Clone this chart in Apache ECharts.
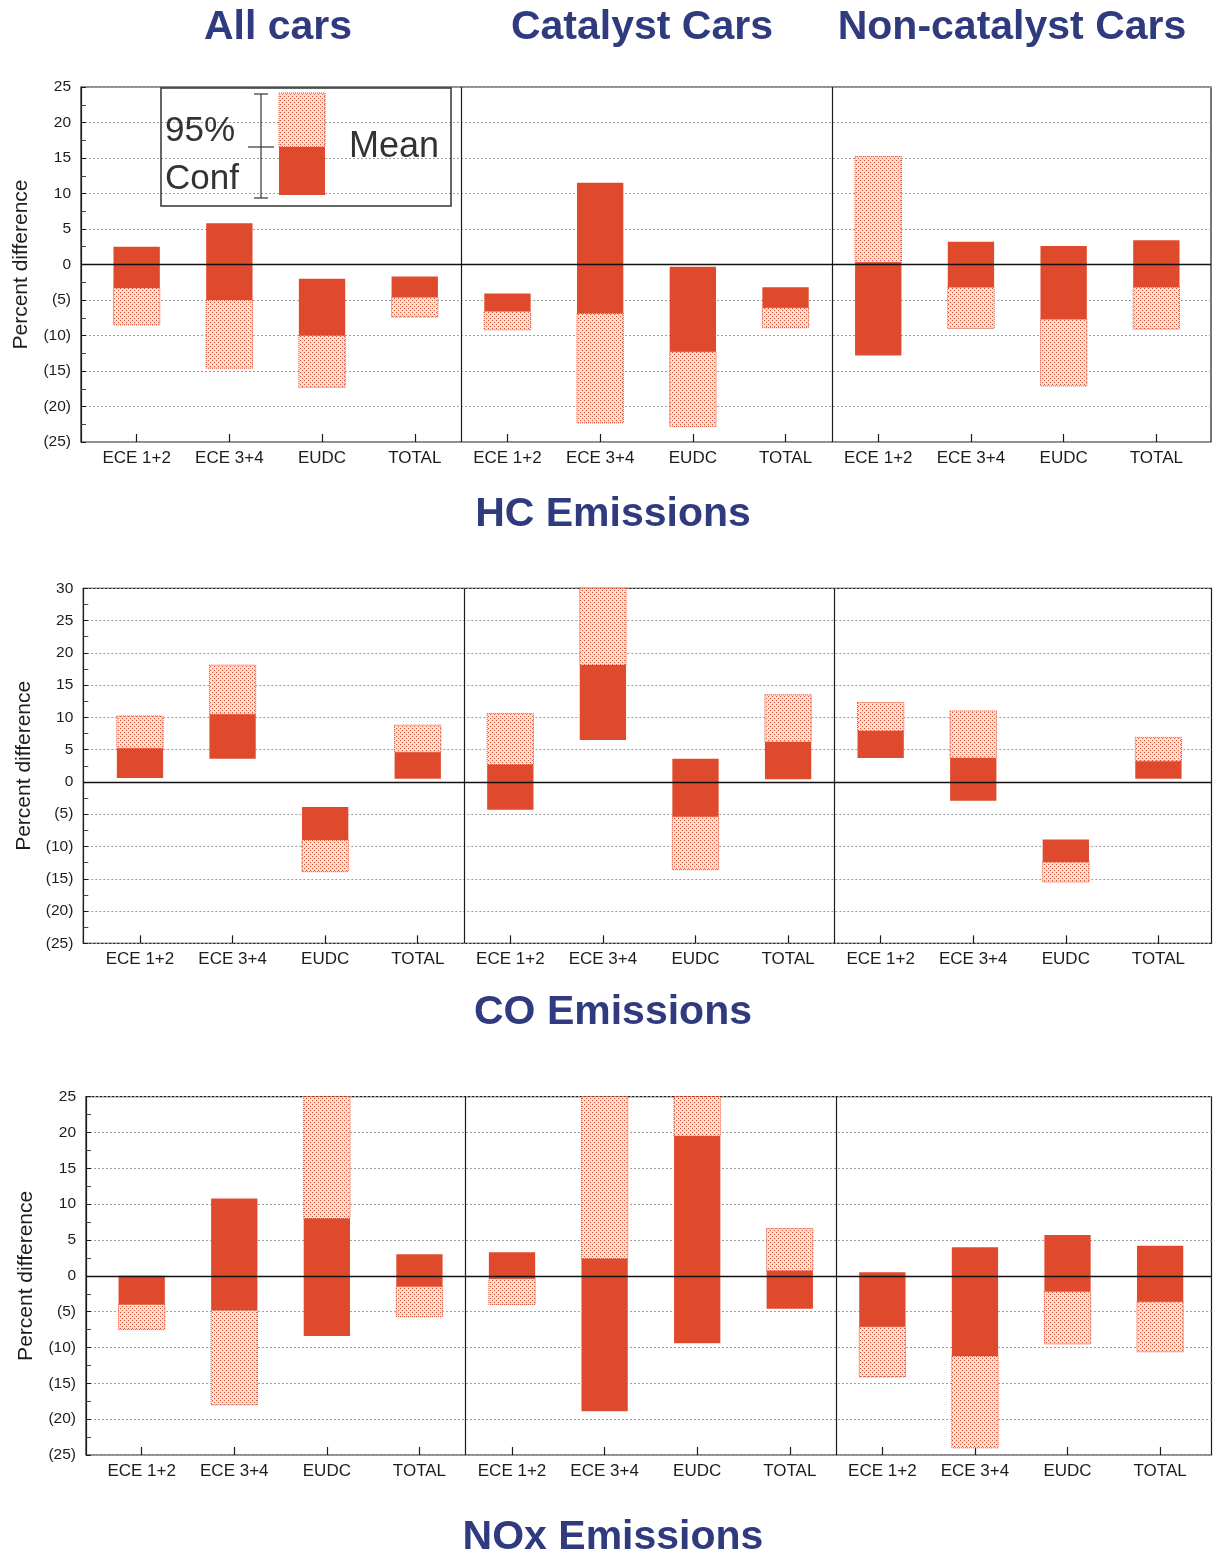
<!DOCTYPE html>
<html>
<head>
<meta charset="utf-8">
<script src="https://cdn.jsdelivr.net/npm/echarts@6/dist/echarts.min.js"></script>
<style>
html,body{margin:0;padding:0;background:#fff;}
#chart{width:1216px;height:1558px;}
</style>
</head>
<body>
<div id="chart"></div>
<script>
// ---------- data ----------
const categories = ['ECE 1+2', 'ECE 3+4', 'EUDC', 'TOTAL'];
const groups = ['All cars', 'Catalyst Cars', 'Non-catalyst Cars'];
const panelTitles = ['HC Emissions', 'CO Emissions', 'NOx Emissions'];

// order: All cars (4), Catalyst (4), Non-catalyst (4)
const hcHigh = [2.5, 5.8, -2.0, -1.7,   -4.1, 11.5, -0.3, -3.2,   15.2, 3.2, 2.6, 3.4];
const hcMean = [-3.3, -5.0, -10.0, -4.6, -6.6, -6.9, -12.3, -6.1,  0.3, -3.2, -7.7, -3.2];
const hcLow  = [-8.5, -14.6, -17.3, -7.4, -9.2, -22.3, -22.8, -8.9, -12.8, -9.0, -17.1, -9.1];

const coHigh = [10.2, 18.1, -3.9, 8.8,   10.6, 30.0, 3.6, 13.5,   12.3, 11.0, -8.9, 6.9];
const coMean = [5.2, 10.5, -9.0, 4.6,    2.7, 18.1, -5.4, 6.2,    7.9, 3.7, -12.4, 3.2];
const coLow  = [0.6, 3.6, -13.9, 0.5,    -4.3, 6.5, -13.6, 0.4,   3.7, -2.9, -15.5, 0.5];

const noxHigh = [0.0, 10.8, 25.0, 3.0,   3.3, 25.0, 25.0, 6.6,    0.5, 4.0, 5.7, 4.2];
const noxMean = [-4.0, -4.8, 8.0, -1.5,  -0.4, 2.4, 19.5, 0.7,    -7.1, -11.2, -2.2, -3.6];
const noxLow  = [-7.5, -18.0, -8.4, -5.7, -4.0, -18.9, -9.4, -4.6, -14.1, -24.0, -9.5, -10.6];

const yRangeHC = [-25, 25], yRangeCO = [-25, 30], yRangeNOx = [-25, 25];

// ---------- layout ----------
const FONT = '"Liberation Sans", Arial, Helvetica, sans-serif';
const NAVY = '#2f3b7e';
const RED = '#df4a2c';
const INK = '#1c1c1c';

const panels = [
  {title: panelTitles[0], titleY: 515, range: yRangeHC, low: hcLow, mean: hcMean, high: hcHigh,
   fl: 81, fr: 1211, ft: 87, fb: 442, bl: 90.3, bw: 1112.4},
  {title: panelTitles[1], titleY: 1013, range: yRangeCO, low: coLow, mean: coMean, high: coHigh,
   fl: 83.3, fr: 1211.5, ft: 588.3, fb: 943.3, bl: 93.7, bw: 1111},
  {title: panelTitles[2], titleY: 1538, range: yRangeNOx, low: noxLow, mean: noxMean, high: noxHigh,
   fl: 86, fr: 1211.5, ft: 1096.7, fb: 1455, bl: 95.4, bw: 1111}
];

// dotted pattern
const pc = document.createElement('canvas');
pc.width = 4; pc.height = 4;
const g = pc.getContext('2d');
g.fillStyle = '#fbe0d6'; g.fillRect(0, 0, 4, 4);
g.fillStyle = '#dc4f30'; g.fillRect(0, 0, 1, 1); g.fillRect(2, 2, 1, 1);
const dotPattern = {image: pc, repeat: 'repeat'};

const xCats = [];
groups.forEach(gr => categories.forEach(c => xCats.push(gr + '|' + c)));

function fmtY(v) { return v < 0 ? '(' + (-v) + ')' : String(v); }

const grid = [], xAxis = [], yAxis = [], series = [];

panels.forEach((p, i) => {
  const h = p.fb - p.ft;
  grid.push({left: p.fl, top: p.ft, width: p.fr - p.fl, height: h, show: true,
    borderColor: INK, borderWidth: 1.2, backgroundColor: 'transparent',
    containLabel: false, outerBoundsMode: 'none'});
  grid.push({left: p.bl, top: p.ft, width: p.bw, height: h, containLabel: false, outerBoundsMode: 'none'});

  xAxis.push({gridIndex: 2 * i, type: 'value', min: 0, max: 1, show: false});
  xAxis.push({gridIndex: 2 * i + 1, type: 'category', data: xCats, position: 'bottom',
    axisLine: {show: false, onZero: false},
    axisTick: {show: true, alignWithLabel: true, inside: true, length: 8, lineStyle: {color: INK, width: 1.2}},
    axisLabel: {interval: 0, formatter: v => v.split('|')[1], fontFamily: FONT, fontSize: 17, color: INK, margin: 8},
    splitLine: {show: true, showMinLine: true, showMaxLine: false,
      interval: (idx) => idx === 4 || idx === 8, lineStyle: {color: INK, width: 1.2}}
  });

  yAxis.push({gridIndex: 2 * i, type: 'value', min: p.range[0], max: p.range[1], interval: 5,
    axisLine: {show: true, onZero: false, lineStyle: {color: INK, width: 1.2}},
    axisTick: {show: true, inside: true, length: 5, lineStyle: {color: INK}},
    minorTick: {show: true, splitNumber: 2, length: 5, lineStyle: {color: '#444'}},
    axisLabel: {formatter: fmtY, fontFamily: FONT, fontSize: 15.5, color: INK, margin: 10},
    splitLine: {show: true, lineStyle: {color: '#a0a0a0', type: [2, 2], width: 1}},
    name: 'Percent difference', nameLocation: 'middle', nameGap: 49, nameRotate: 90,
    nameTextStyle: {fontFamily: FONT, fontSize: 21, color: INK}
  });
  yAxis.push({gridIndex: 2 * i + 1, type: 'value', min: p.range[0], max: p.range[1], show: false});

  // zero line
  series.push({type: 'line', xAxisIndex: 2 * i, yAxisIndex: 2 * i, data: [], silent: true,
    markLine: {silent: true, symbol: ['none', 'none'], label: {show: false}, animation: false,
      lineStyle: {color: '#111', type: 'solid', width: 1.3}, data: [{yAxis: 0}]}});

  const lo = p.range[0], hi = p.range[1];
  const clamp = v => Math.max(lo, Math.min(hi, v));
  series.push({
    type: 'custom', xAxisIndex: 2 * i + 1, yAxisIndex: 2 * i + 1, animation: false,
    data: p.low.map((v, k) => [k, p.low[k], p.mean[k], p.high[k]]),
    renderItem: function (params, api) {
      const idx = api.value(0), l = api.value(1), m = api.value(2), u = api.value(3);
      const band = api.size([1, 0])[0];
      const w = band * 0.5;
      const cx = api.coord([idx, 0])[0];
      function seg(a, b) {
        const y1 = api.coord([idx, clamp(Math.max(a, b))])[1];
        const y2 = api.coord([idx, clamp(Math.min(a, b))])[1];
        return {x: cx - w / 2, y: y1, width: w, height: y2 - y1};
      }
      let solid, dotted;
      if (m >= 0) { solid = seg(l, m); dotted = seg(m, u); }
      else { solid = seg(m, u); dotted = seg(l, m); }
      return {type: 'group', children: [
        {type: 'rect', shape: dotted, style: {fill: dotPattern, stroke: RED, lineWidth: 1, lineDash: [1, 1]}},
        {type: 'rect', shape: solid, style: {fill: RED}}
      ]};
    }
  });
});

function txt(text, x, y, font, fill, align) {
  return {type: 'text', z: 100, style: {text: text, x: x, y: y, font: font, fill: fill,
    align: align || 'center', textAlign: align || 'center', verticalAlign: 'middle', textVerticalAlign: 'middle'}};
}

const graphic = [];
const gx = [278, 642, 1012];
groups.forEach((gr, k) => graphic.push(txt(gr, gx[k], 28, 'bold 41px ' + FONT, NAVY)));
panels.forEach(p => graphic.push(txt(p.title, 613, p.titleY, 'bold 41px ' + FONT, NAVY)));

// legend box
graphic.push({type: 'rect', z: 100, shape: {x: 161, y: 88, width: 290, height: 118},
  style: {fill: 'none', stroke: '#333', lineWidth: 1.5}});
graphic.push(txt('95%', 165, 131, '35px ' + FONT, '#333', 'left'));
graphic.push(txt('Conf', 165, 179, '35px ' + FONT, '#333', 'left'));
graphic.push(txt('Mean', 349, 147, '36px ' + FONT, '#333', 'left'));
const lineSt = {stroke: '#333', lineWidth: 1.2};
graphic.push({type: 'line', z: 100, shape: {x1: 261, y1: 94, x2: 261, y2: 198}, style: lineSt});
graphic.push({type: 'line', z: 100, shape: {x1: 254, y1: 94, x2: 268, y2: 94}, style: lineSt});
graphic.push({type: 'line', z: 100, shape: {x1: 254, y1: 198, x2: 268, y2: 198}, style: lineSt});
graphic.push({type: 'line', z: 100, shape: {x1: 248, y1: 147, x2: 274, y2: 147}, style: lineSt});
graphic.push({type: 'rect', z: 100, shape: {x: 279, y: 93, width: 46, height: 54},
  style: {fill: dotPattern, stroke: RED, lineWidth: 1, lineDash: [1, 1]}});
graphic.push({type: 'rect', z: 100, shape: {x: 279, y: 147, width: 46, height: 48}, style: {fill: RED}});

const chart = echarts.init(document.getElementById('chart'), null, {renderer: 'canvas'});
chart.setOption({
  animation: false,
  backgroundColor: '#fff',
  textStyle: {fontFamily: FONT},
  grid: grid, xAxis: xAxis, yAxis: yAxis, series: series, graphic: graphic
});
</script>
</body>
</html>
